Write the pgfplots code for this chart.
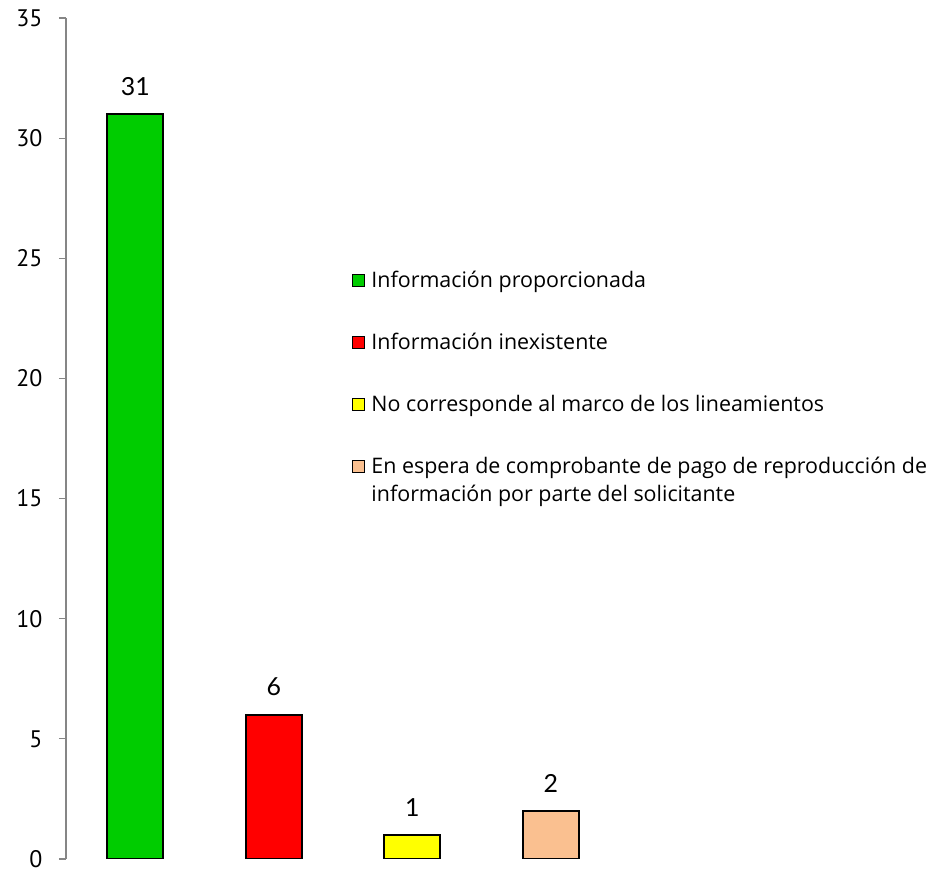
\documentclass[border=0pt]{standalone}
\usepackage{fontspec}
\setmainfont{Open Sans}
\newfontfamily\tickfont{PT Sans}
\newfontfamily\labfont{Lato}
\usepackage{pgfplots}
\pgfplotsset{compat=1.18}
\definecolor{axisgray}{RGB}{134,134,134}
\definecolor{cgreen}{RGB}{0,204,0}
\definecolor{cred}{RGB}{255,0,0}
\definecolor{cyellow}{RGB}{255,255,0}
\definecolor{cpeach}{RGB}{250,192,144}
\begin{document}
\begin{tikzpicture}[x=1bp,y=1bp]
\path[use as bounding box] (0,0) rectangle (941,869);
\begin{axis}[
  at={(66bp,10bp)}, anchor=south west,
  scale only axis, width=554bp, height=841bp,
  xmin=-0.5, xmax=3.5, ymin=0, ymax=35,
  axis x line=none,
  axis y line*=left,
  y axis line style={axisgray, line width=1.2bp},
  ytick={0,5,...,35},
  tick align=outside,
  major tick length=7bp,
  ytick style={axisgray, line width=1.2bp},
  /pgf/number format/assume math mode=true,
  yticklabel style={font=\tickfont\fontsize{24}{28}\selectfont, text=black, xshift=-13bp},
  ybar, bar shift=0pt, bar width=56bp,
  nodes near coords,
  nodes near coords style={font=\labfont\fontsize{25}{28}\selectfont, inner sep=0pt, yshift=18bp, text=black},
  legend style={at={(0.511,0.7015)}, anchor=north west, draw=none, fill=none,
    font=\fontsize{21.5}{28}\selectfont, row sep=44bp, column sep=6bp,
    nodes={align=left, inner sep=0pt}},
  legend cell align=left,
  legend image code/.code={\draw[#1, line width=1.2bp, draw=black] (0bp,-6.5bp) rectangle (12bp,5.5bp);},
]
\addplot[fill=cgreen, draw=black, line width=1.6bp] coordinates {(0,31)};
\addlegendentry{Información proporcionada}
\addplot[fill=cred, draw=black, line width=1.6bp] coordinates {(1,6)};
\addlegendentry{Información inexistente}
\addplot[fill=cyellow, draw=black, line width=1.6bp] coordinates {(2,1)};
\addlegendentry{No corresponde al marco de los lineamientos}
\addplot[fill=cpeach, draw=black, line width=1.6bp,
  legend image code/.code={\draw[fill=cpeach, line width=1.2bp, draw=black] (0bp,7.5bp) rectangle (12bp,19.5bp);}] coordinates {(3,2)};
\addlegendentry{En espera de comprobante de pago de reproducción de\\información por parte del solicitante}
\end{axis}
\end{tikzpicture}
\end{document}
